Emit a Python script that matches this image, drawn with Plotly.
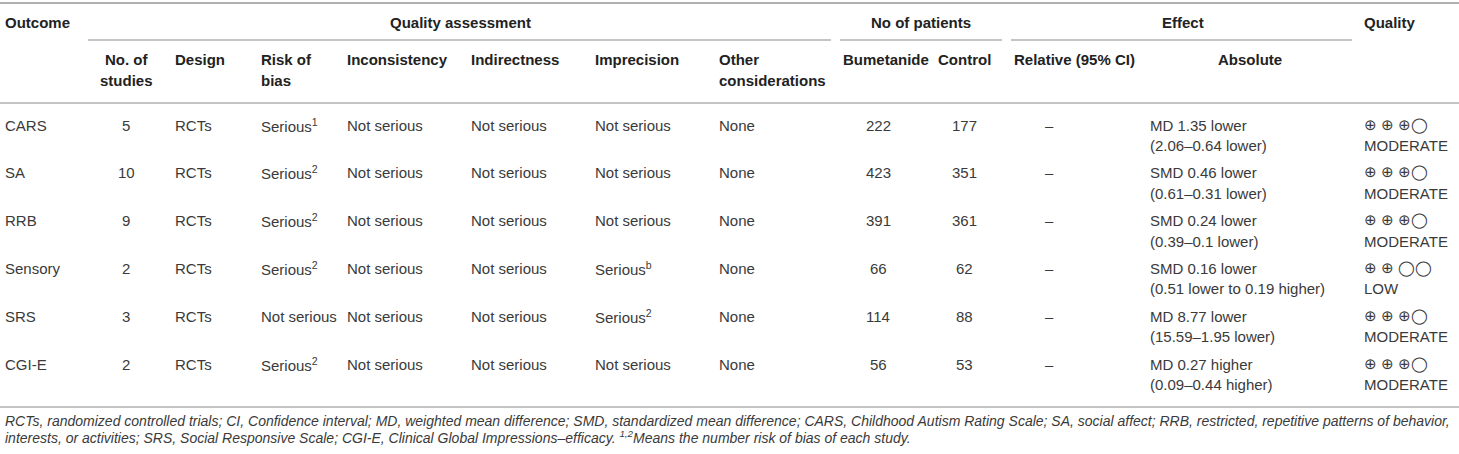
import plotly.graph_objects as go

# table content
outcomes = ["CARS", "SA", "RRB", "Sensory", "SRS", "CGI-E"]
n_studies = ["5", "10", "9", "2", "3", "2"]
design = ["RCTs"] * 6
risk_of_bias = ["Serious<sup>1</sup>", "Serious<sup>2</sup>", "Serious<sup>2</sup>",
                "Serious<sup>2</sup>", "Not serious", "Serious<sup>2</sup>"]
inconsistency = ["Not serious"] * 6
indirectness = ["Not serious"] * 6
imprecision = ["Not serious", "Not serious", "Not serious",
               "Serious<sup>b</sup>", "Serious<sup>2</sup>", "Not serious"]
other = ["None"] * 6
bumetanide = ["222", "423", "391", "66", "114", "56"]
control = ["177", "351", "361", "62", "88", "53"]
relative = ["–"] * 6
absolute = [
    "MD 1.35 lower<br>(2.06–0.64 lower)",
    "SMD 0.46 lower<br>(0.61–0.31 lower)",
    "SMD 0.24 lower<br>(0.39–0.1 lower)",
    "SMD 0.16 lower<br>(0.51 lower to 0.19 higher)",
    "MD 8.77 lower<br>(15.59–1.95 lower)",
    "MD 0.27 higher<br>(0.09–0.44 higher)",
]
quality_symbols = ["⊕ ⊕ ⊕◯", "⊕ ⊕ ⊕◯", "⊕ ⊕ ⊕◯", "⊕ ⊕ ◯◯", "⊕ ⊕ ⊕◯", "⊕ ⊕ ⊕◯"]
quality_grade = ["MODERATE", "MODERATE", "MODERATE", "LOW", "MODERATE", "MODERATE"]

group_headers = ["Quality assessment", "No of patients", "Effect"]
sub_headers = ["No. of<br>studies", "Design", "Risk of<br>bias", "Inconsistency",
               "Indirectness", "Imprecision", "Other<br>considerations",
               "Bumetanide", "Control", "Relative (95% CI)", "Absolute"]

footnote = ["RCTs, randomized controlled trials; CI, Confidence interval; MD, weighted mean difference; "
            "SMD, standardized mean difference; CARS, Childhood Autism Rating Scale; SA, social affect; "
            "RRB, restricted, repetitive patterns of behavior,",
            "interests, or activities; SRS, Social Responsive Scale; CGI-E, Clinical Global "
            "Impressions–efficacy. <sup>1,2</sup>Means the number risk of bias of each study."]

W, H = 1459, 454
FONT = "Liberation Sans"
FS = 15
HEAD_C = "#222222"
BODY_C = "#3a3a3a"
LINE_C = "#b0b0b0"

columns = [outcomes, n_studies, design, risk_of_bias, inconsistency, indirectness,
           imprecision, other, bumetanide, control, relative, absolute, quality_grade]
# (x, anchor) for body cells
col_pos = [(3, "left"), (126, "center"), (173, "left"), (259, "left"), (345, "left"),
           (469, "left"), (593, "left"), (717, "left"), (878, "center"), (964, "center"),
           (1049, "center"), (1148, "left"), (1362, "left")]
# (x, anchor) for sub headers
sub_pos = [(126, "center"), (173, "left"), (259, "left"), (345, "left"), (469, "left"),
           (593, "left"), (717, "left"), (841, "left"), (936, "left"), (1012, "left"),
           (1250, "center")]
group_pos = [460, 921, 1183]
group_lines = [(88, 831), (840, 1002), (1011, 1352)]

row_y0 = 125
row_step = 47.8
line_step = 20.5

fig = go.Figure()
fig.add_trace(go.Scatter(x=[0, W], y=[0, H], mode="markers",
                         marker=dict(opacity=0), hoverinfo="skip", showlegend=False))

ann = []


def add_text(x, y, text, anchor, bold=False, step=line_step, size=FS, color=BODY_C):
    for i, part in enumerate(text.split("<br>")):
        if bold:
            part = "<b>" + part + "</b>"
        ann.append(dict(x=x, y=y + i * step, text=part, xanchor=anchor, yanchor="middle",
                        showarrow=False, font=dict(family=FONT, size=size, color=color),
                        xref="x", yref="y"))


# headers
add_text(3, 22, "Outcome", "left", bold=True, color=HEAD_C)
add_text(1362, 22, "Quality", "left", bold=True, color=HEAD_C)
for name, gx in zip(group_headers, group_pos):
    add_text(gx, 22, name, "center", bold=True, color=HEAD_C)
for name, (sx, anc) in zip(sub_headers, sub_pos):
    add_text(sx, 59, name, anc, bold=True, color=HEAD_C, step=21)

# body
for values, (cx, anc) in zip(columns, col_pos):
    for r, v in enumerate(values):
        if values is quality_grade:
            add_text(cx, row_y0 + r * row_step, quality_symbols[r], anc, size=14.5)
            add_text(cx, row_y0 + r * row_step + line_step, v, anc)
        else:
            add_text(cx, row_y0 + r * row_step, v, anc)

# footnote
for i, part in enumerate(footnote):
    ann.append(dict(x=3, y=421 + i * 15.5, text="<i>" + part + "</i>", xanchor="left",
                    yanchor="middle", showarrow=False,
                    font=dict(family=FONT, size=14, color=BODY_C), xref="x", yref="y"))

shapes = []
for y0, w in [(3, 2), (103, 1.5), (407, 1.5)]:
    shapes.append(dict(type="line", x0=0, x1=W, y0=y0, y1=y0, xref="x", yref="y",
                       line=dict(color=LINE_C, width=w)))
for x0, x1 in group_lines:
    shapes.append(dict(type="line", x0=x0, x1=x1, y0=40, y1=40, xref="x", yref="y",
                       line=dict(color=LINE_C, width=1.5)))

fig.update_layout(
    width=W, height=H,
    margin=dict(l=0, r=0, t=0, b=0),
    paper_bgcolor="white", plot_bgcolor="white",
    xaxis=dict(range=[0, W], visible=False, fixedrange=True),
    yaxis=dict(range=[H, 0], visible=False, fixedrange=True),
    annotations=ann, shapes=shapes,
)

fig.write_html("out.html", config={"displayModeBar": False},
               post_script="document.body.style.margin='0';document.body.style.overflow='hidden';")
